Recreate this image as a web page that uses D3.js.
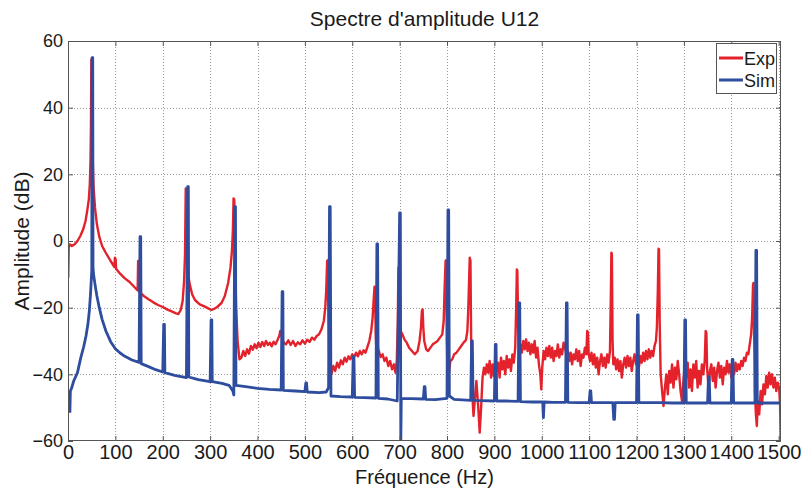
<!DOCTYPE html>
<html><head><meta charset="utf-8">
<script src="https://cdn.jsdelivr.net/npm/d3@7"></script>
<style>
html,body{margin:0;padding:0;background:#fff;}
svg{display:block;font-family:Arial,"Liberation Sans",sans-serif;}
</style></head>
<body><svg id="chart" width="801" height="491"></svg>
<script>
const title = "Spectre d'amplitude U12";
const xLabel = "Fréquence (Hz)";
const yLabel = "Amplitude (dB)";
const xTicks = [0,100,200,300,400,500,600,700,800,900,1000,1100,1200,1300,1400,1500];
const yTicks = [-60,-40,-20,0,20,40,60];
const seriesNames = ["Exp","Sim"];

// Experimental spectrum [frequency Hz, amplitude dB]
const expData = [
[0.5,-11],[1.5,-2],[3,-1],[8,-1.5],[14,-1],[20,0],[26,1.5],[32,3.5],[37,6],[41,9.5],[44,12.5],[46,17],[47.5,24],[48.5,35],[49.3,54.5],[50,54.5],[50.8,36],[52,25],[54,16],[57,10],[61,5],[66,1.3],[72,-1.5],[80,-3.6],[90,-6],[98,-7.8],[99,-5],[100.5,-5.5],[101.5,-8.3],[110,-9.8],[120,-11.2],[130,-12.3],[140,-13.8],[147,-14.8],[148,-6],[149.5,-6.5],[150.5,-15.3],[160,-16.5],[170,-17.5],[180,-18.4],[190,-19.2],[200,-19.8],[210,-20.6],[220,-21.2],[228,-21.7],[233,-21.9],[238,-20.7],[242,-18],[245,-12],[247,-4],[248.5,15.8],[249.5,15.5],[251,-3],[253,-9.6],[257,-13],[262,-16],[268,-17.7],[278,-19],[289,-19.7],[297,-20.3],[303,-20.7],[308,-20.4],[315,-19.8],[324,-18.6],[331,-16.5],[338,-12.6],[343,-8],[346,-3],[348,3],[349.5,12.8],[351,12.3],[352.5,-5],[355,-20],[358,-30],[362,-35.5],[366,-35],[370,-33],[374,-34.5],[378,-32.5],[382,-33.8],[386,-31.5],[390,-32.6],[394,-31],[398,-32.2],[402,-30.5],[406,-31.8],[410,-30.3],[414,-31.5],[418,-30],[422,-31.2],[426,-30.5],[430,-31.6],[434,-30.2],[438,-31],[442,-29.8],[446,-28.5],[448,-27],[451,-28.5],[455,-30.5],[460,-31],[465,-29.8],[470,-31.2],[475,-30],[480,-31.5],[485,-30.4],[490,-31],[495,-29.8],[500,-30.8],[505,-29.6],[510,-30.3],[515,-29],[520,-29.6],[525,-28.5],[530,-28],[535,-26.5],[540,-24],[543,-20],[545,-15],[547,-6],[548,-5.8],[549.5,-20],[551,-34],[553,-39.5],[556,-40],[560,-37.5],[564,-39],[568,-36.5],[572,-38],[576,-35.8],[580,-37],[584,-35],[588,-36.2],[592,-34.6],[596,-35.5],[600,-34],[604,-34.8],[608,-33.5],[612,-34.6],[616,-33],[620,-34],[624,-32.8],[628,-33.5],[632,-31.8],[636,-30],[640,-27],[643,-23],[645,-18],[647,-13.7],[648,-14],[649.5,-28],[651,-33],[655,-32.5],[660,-34.8],[664,-34],[668,-36],[672,-35],[676,-37.5],[680,-36],[684,-38.5],[688,-37],[691,-39.5],[694,-36],[696,-25],[697.5,-8],[698.5,-8.5],[700,-24],[702,-27],[706,-28],[710,-29.5],[715,-30.5],[720,-32],[726,-33],[732,-34],[738,-33],[742,-30],[745,-26],[747,-21],[748.5,-20.5],[750,-26],[752,-30],[756,-32.5],[760,-33],[765,-32],[770,-31],[775,-30.5],[780,-30],[785,-29],[790,-28],[793,-24],[795,-14],[797,-6],[798,-5.8],[799.5,-30],[801,-39],[804,-39.6],[807,-36],[811,-35.5],[815,-34],[820,-33.5],[825,-32.5],[830,-31.5],[835,-30.5],[840,-29.7],[843,-27],[845,-20],[847,-10],[848,-5],[849.5,-6],[851,-30],[853,-45],[856,-52.5],[859,-47],[862,-42],[866,-50],[869,-57.5],[872,-50],[875,-41],[878,-38],[881,-40],[884,-37],[887,-39.5],[890,-36],[893,-41],[896,-37],[899,-40.5],[902,-35.5],[905,-39],[908,-36.5],[911,-41],[914,-35],[917,-38.5],[920,-36],[923,-40],[926,-34.5],[929,-38],[932,-35.5],[935,-39],[938,-34],[941,-36.5],[944,-32],[946,-20],[947.5,-8.5],[948.5,-9],[950,-25],[952,-34],[955,-31],[958,-33.5],[961,-30],[964,-32.5],[967,-29.5],[970,-33],[973,-30.5],[976,-34],[979,-31],[982,-33.5],[985,-30],[988,-35],[991,-32],[994,-37],[997,-40],[999,-44.5],[1001,-38],[1004,-33],[1007,-35.5],[1010,-32],[1013,-34.5],[1016,-31.5],[1019,-35],[1022,-32],[1025,-36],[1028,-33],[1031,-34.5],[1034,-31],[1037,-35],[1040,-32.5],[1043,-34],[1046,-30.5],[1049,-32],[1052,-34],[1055,-33],[1058,-36],[1061,-33.5],[1064,-37],[1067,-34],[1070,-35.5],[1073,-32.5],[1076,-36],[1079,-33],[1082,-37.5],[1085,-34],[1088,-35],[1091,-32],[1094,-34],[1096,-27],[1097.5,-27.5],[1099,-34],[1102,-36],[1105,-33.5],[1108,-37],[1111,-34],[1114,-38],[1117,-35],[1120,-40],[1123,-36],[1126,-34],[1129,-37.5],[1132,-35],[1135,-38],[1138,-34],[1141,-36.5],[1144,-33],[1146,-15],[1147,-3.5],[1148,-4],[1149.5,-30],[1151,-37],[1154,-35],[1157,-38.5],[1160,-35.5],[1163,-39],[1166,-36],[1169,-41],[1172,-37],[1175,-35],[1178,-38],[1181,-34.5],[1184,-37.5],[1187,-35],[1190,-39],[1193,-36],[1196,-34],[1199,-37],[1202,-35],[1205,-38],[1208,-34.5],[1211,-36.5],[1214,-33.5],[1217,-36],[1220,-33],[1223,-35.5],[1226,-32.5],[1229,-35],[1232,-33],[1235,-34.5],[1238,-31.5],[1241,-30],[1243,-26],[1245,-15],[1246.5,-2.3],[1247.5,-2.5],[1249,-25],[1251,-40],[1254,-45],[1257,-49.5],[1260,-44],[1263,-40],[1266,-46],[1269,-39],[1272,-42.5],[1275,-37],[1278,-44],[1281,-38],[1284,-41.5],[1287,-36],[1290,-40],[1293,-45],[1296,-48],[1299,-42],[1302,-37],[1305,-41],[1308,-36.5],[1311,-44],[1314,-38.5],[1317,-45],[1320,-37],[1323,-41],[1326,-36],[1329,-44],[1332,-39],[1335,-43],[1338,-37],[1341,-40],[1344,-36],[1346,-27],[1347.5,-27.5],[1349,-38],[1352,-44],[1355,-39],[1358,-37],[1361,-42],[1364,-38],[1367,-44],[1370,-39],[1373,-36.5],[1376,-41],[1379,-37.5],[1382,-43],[1385,-38],[1388,-40],[1391,-36],[1394,-39.5],[1397,-37],[1400,-41],[1403,-37.5],[1406,-40],[1409,-36.5],[1412,-39],[1415,-37],[1418,-38.5],[1421,-36],[1424,-37.5],[1427,-35],[1430,-36],[1433,-33.5],[1436,-34],[1439,-31],[1442,-28],[1444,-23],[1446,-13],[1447,-12.6],[1448.5,-30],[1450,-45],[1452,-52],[1454,-55.5],[1456,-48],[1459,-52],[1462,-45],[1465,-49],[1468,-43],[1471,-46],[1474,-40.5],[1477,-44],[1480,-39.5],[1483,-43],[1486,-40],[1489,-44],[1492,-41],[1495,-45],[1498,-42.5],[1501,-44],[1503,-49],[1504.5,-60]
];

// Simulated spectrum [frequency Hz, amplitude dB]
const simData = [
[4,-51.5],[5,-45],[8,-44],[12,-42],[20,-39.5],[27,-35],[33,-31.8],[38,-28.5],[42,-25],[45,-21],[47.5,-16],[49,-12],[50.2,-9],[50.8,55],[52.2,55],[52.8,-8],[54,-10],[57,-13],[61,-16.5],[66,-20],[72,-23.5],[80,-27],[90,-30.2],[100,-32.3],[110,-33.6],[120,-34.6],[135,-35.7],[150,-36.4],[152,1.3],[153.5,1.3],[154.5,-36.8],[170,-37.7],[185,-38.6],[200,-39.3],[202,-25],[203.5,-25],[204.5,-39.5],[225,-40.3],[250,-41],[252.5,16.3],[254,16.3],[255,-40.8],[275,-41.6],[300,-42.2],[302,-23.7],[303.5,-23.7],[304.5,-42.2],[325,-42.7],[340,-43.3],[348,-45],[350,-46.2],[352,10.3],[353.5,10.3],[354.5,-43.3],[375,-43.7],[400,-44.2],[425,-44.5],[450,-44.7],[452,-15.2],[453.5,-15.2],[454.5,-44.8],[480,-45],[500,-45.2],[502,-42.6],[503.5,-42.6],[505,-45.3],[530,-45.5],[545,-45.3],[550,-44],[552,10.3],[553.5,10.3],[555,-46.5],[575,-46.7],[600,-46.8],[602,-34.7],[603.5,-34.7],[605,-46.9],[625,-47],[650,-47.1],[652,-0.9],[653.5,-0.9],[655,-47.2],[675,-47.4],[695,-48],[700,8.4],[701.5,8.4],[702.5,-60],[703.5,-47.2],[725,-47.3],[750,-47.4],[752,-43.7],[753.5,-43.7],[755,-47.5],[775,-47.6],[800,-47.2],[802,9.3],[803.5,9.3],[805,-46.5],[815,-47.5],[850,-47.8],[852,-30],[853.5,-30],[855,-47.8],[875,-47.9],[900,-48],[902,-31],[903.5,-31],[905,-48],[925,-48],[950,-48.1],[952,-18.6],[953.5,-18.6],[955,-48.2],[980,-48.3],[1002,-48.3],[1003.5,-53],[1005,-48.3],[1025,-48.4],[1050,-48.4],[1052,-18.6],[1053.5,-18.6],[1055,-48.4],[1075,-48.5],[1100,-48.5],[1102,-45],[1103.5,-45],[1105,-48.5],[1125,-48.5],[1150,-48.5],[1152,-53.5],[1153.5,-53.5],[1155,-48.5],[1175,-48.5],[1200,-48.5],[1202,-22.2],[1203.5,-22.2],[1205,-48.5],[1250,-48.5],[1275,-48.6],[1300,-48.6],[1302,-23.7],[1303.5,-23.7],[1305,-48.6],[1325,-48.6],[1350,-48.6],[1352,-40.7],[1353.5,-40.7],[1355,-48.6],[1375,-48.6],[1400,-48.6],[1402,-35.5],[1403.5,-35.5],[1405,-48.6],[1425,-48.6],[1450,-48.6],[1452,-2.8],[1453.5,-2.8],[1455,-48.6],[1475,-48.6],[1500,-48.6],[1505,-48.6]
];

const colors = {Exp:"#e3222b", Sim:"#2f4d9e"};

const svg = d3.select("#chart");
const m = {l:68, t:41, r:781, b:441};
const x = d3.scaleLinear().domain([0,1505]).range([m.l, m.r]);
const y = d3.scaleLinear().domain([-60,60]).range([m.b, m.t]);

svg.append("rect").attr("width",801).attr("height",491).attr("fill","#fff");

// grid
const grid = svg.append("g").attr("stroke","#9a9a9a").attr("stroke-width",1).attr("stroke-dasharray","1,2");
grid.selectAll("line.v").data(xTicks.filter(d=>d>0)).join("line")
  .attr("x1",d=>Math.round(x(d))+0.5).attr("x2",d=>Math.round(x(d))+0.5)
  .attr("y1",m.t).attr("y2",m.b);
grid.selectAll("line.h").data(yTicks.filter(d=>d>-60&&d<60)).join("line")
  .attr("y1",d=>Math.round(y(d))+0.5).attr("y2",d=>Math.round(y(d))+0.5)
  .attr("x1",m.l).attr("x2",m.r);

// clip
svg.append("clipPath").attr("id","clip").append("rect")
  .attr("x",m.l).attr("y",m.t).attr("width",m.r-m.l).attr("height",m.b-m.t);

const line = d3.line().x(d=>x(d[0])).y(d=>y(d[1]));
const plot = svg.append("g").attr("clip-path","url(#clip)");
plot.append("path").datum(expData).attr("d",line).attr("fill","none")
  .attr("stroke",colors.Exp).attr("stroke-width",2.4).attr("stroke-linejoin","round");
plot.append("path").datum(simData).attr("d",line).attr("fill","none")
  .attr("stroke",colors.Sim).attr("stroke-width",2.8).attr("stroke-linejoin","round");

// axes (ticks inward)
const axB = d3.axisBottom(x).tickValues(xTicks).tickSize(-5).tickPadding(4).tickFormat(d3.format("d"));
const axL = d3.axisLeft(y).tickValues(yTicks).tickSize(-5).tickPadding(5).tickFormat(d3.format("d"));
const axT = d3.axisTop(x).tickValues(xTicks).tickSize(-5).tickFormat("");
const axR = d3.axisRight(y).tickValues(yTicks).tickSize(-5).tickFormat("");
function style(g){ g.select(".domain").remove(); g.selectAll(".tick line").attr("stroke","#555");
  g.selectAll("text").attr("fill","#1a1a1a").style("font-family","Arial,'Liberation Sans',sans-serif"); }
svg.append("g").attr("transform",`translate(0,${m.b})`).call(axB).call(style).selectAll("text").style("font-size","20px");
svg.append("g").attr("transform",`translate(${m.l},0)`).call(axL).call(style).selectAll("text").style("font-size","18px");
svg.append("g").attr("transform",`translate(0,${m.t})`).call(axT).call(style);
svg.append("g").attr("transform",`translate(${m.r},0)`).call(axR).call(style);

// frame
svg.append("rect").attr("x",m.l+0.5).attr("y",m.t+0.5).attr("width",m.r-m.l-1).attr("height",m.b-m.t-1)
  .attr("fill","none").attr("stroke","#555").attr("stroke-width",1);

// title and labels
svg.append("text").attr("x",(m.l+m.r)/2).attr("y",26).attr("text-anchor","middle")
  .style("font-size","21px").attr("fill","#1a1a1a").text(title);
svg.append("text").attr("x",(m.l+m.r)/2).attr("y",484).attr("text-anchor","middle")
  .style("font-size","20px").attr("fill","#1a1a1a").text(xLabel);
svg.append("text").attr("transform",`translate(29,${(m.t+m.b)/2}) rotate(-90)`).attr("text-anchor","middle")
  .style("font-size","21px").attr("fill","#1a1a1a").text(yLabel);

// legend
const lg = svg.append("g");
lg.append("rect").attr("x",716.5).attr("y",43.5).attr("width",60).attr("height",50)
  .attr("fill","#fff").attr("stroke","#555");
seriesNames.forEach((n,i)=>{
  const yy = 58 + i*22;
  lg.append("line").attr("x1",719).attr("x2",743).attr("y1",yy).attr("y2",yy)
    .attr("stroke",colors[n]).attr("stroke-width",3);
  lg.append("text").attr("x",744).attr("y",yy+7).style("font-size","18px").attr("fill","#1a1a1a").text(n);
});
</script></body></html>
